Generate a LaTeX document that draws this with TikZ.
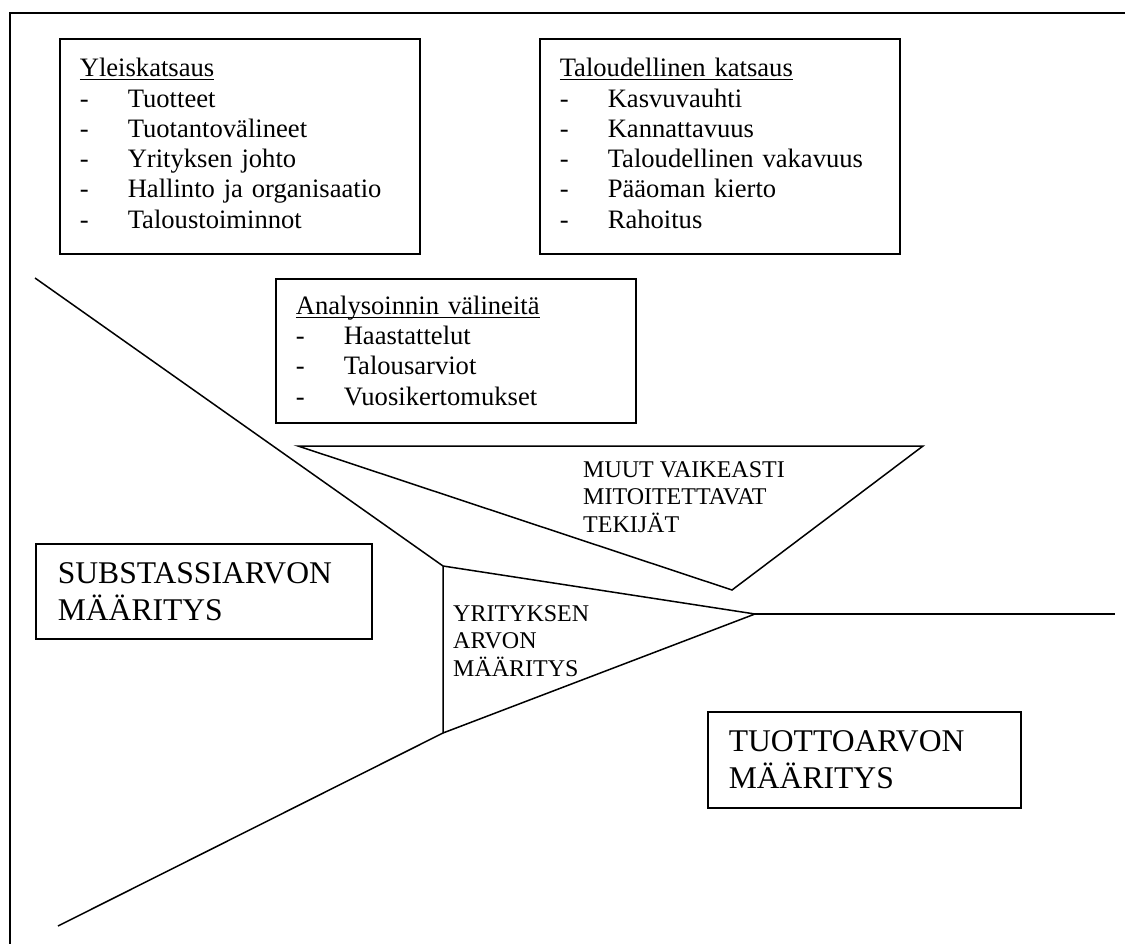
\documentclass[tikz,border=0pt]{standalone}
\usepackage{fontspec}
\setmainfont{Liberation Serif}
% underlined heading that keeps the rule close to the baseline
\newcommand\ulhead[1]{\setbox0\hbox{#1}\rlap{\rule[-3.6pt]{\wd0}{1.4pt}}\box0}
% list entry: hyphen followed by a tabbed item
\newcommand\itm[1]{\makebox[48pt][l]{-}#1}
% extra depth under the last line of a list
\newcommand\lastdepth{\rule[-6pt]{0pt}{6pt}}
\begin{document}
\begin{tikzpicture}[x=1pt,y=-1pt]
\tikzset{
  listbox/.style={draw, line width=1.6pt, anchor=north west, inner xsep=20pt,
    inner ysep=0pt, text width=320pt, align=left,
    font=\fontsize{26.6pt}{30.3pt}\selectfont},
  bigbox/.style={draw, line width=1.6pt, anchor=north west, inner ysep=0pt,
    align=left, font=\fontsize{31.6pt}{37pt}\selectfont},
  caplabel/.style={anchor=west, inner sep=0pt, align=left,
    font=\fontsize{24pt}{27.5pt}\selectfont},
  stroke/.style={line width=1.5pt, line join=miter}
}
\useasboundingbox (0,0) rectangle (1125,944);

% outer frame (top and left edges)
\coordinate (fb) at (10,944);
\coordinate (fc) at (10,13);
\coordinate (fr) at (1125,13);
\draw[line width=1.6pt] (fb) -- (fc) -- (fr);

% information boxes
\node[listbox, minimum height=215pt] (yleis) at (59,38)
  {\ulhead{Yleiskatsaus}\\
   \itm{Tuotteet}\\
   \itm{Tuotantovälineet}\\
   \itm{Yrityksen johto}\\
   \itm{Hallinto ja organisaatio}\\
   \itm{Taloustoiminnot}\lastdepth};

\node[listbox, minimum height=215pt] (talous) at (539,38)
  {\ulhead{Taloudellinen katsaus}\\
   \itm{Kasvuvauhti}\\
   \itm{Kannattavuus}\\
   \itm{Taloudellinen vakavuus}\\
   \itm{Pääoman kierto}\\
   \itm{Rahoitus}\lastdepth};

\node[listbox, minimum height=144pt] (analyysi) at (275,278)
  {\ulhead{Analysoinnin välineitä}\\
   \itm{Haastattelut}\\
   \itm{Talousarviot}\\
   \itm{Vuosikertomukset}};

% value boxes
\node[bigbox, minimum width=336pt, minimum height=95pt, inner xsep=22pt,
      text width=292pt] (subst) at (35,543)
  {SUBSTASSIARVON\\MÄÄRITYS};
\node[bigbox, minimum width=313pt, minimum height=96pt, inner xsep=21pt,
      text width=271pt] (tuotto) at (707,711)
  {TUOTTOARVON\\MÄÄRITYS};

% branching lines
\coordinate (s) at (35,278);
\coordinate (j1) at (443,566);
\coordinate (j2) at (443,733);
\coordinate (k) at (755,614);
\coordinate (e) at (1115,614);
\coordinate (b) at (58,926);
\draw[stroke] (s) -- (j1);
\draw[stroke] (j1) -- (k) -- (j2) -- cycle;
\draw[stroke] (k) -- (e);
\draw[stroke] (j2) -- (b);

% funnel of other factors
\coordinate (t1) at (298,446);
\coordinate (t2) at (923,446);
\coordinate (t3) at (732,590);
\draw[stroke] (t1) -- (t2) -- (t3) -- cycle;

\node[caplabel] (muut) at (583,497)
  {MUUT VAIKEASTI\\MITOITETTAVAT\\TEKIJÄT};
\node[caplabel] (yritys) at (453,641)
  {YRITYKSEN\\ARVON\\MÄÄRITYS};
\end{tikzpicture}
\end{document}
